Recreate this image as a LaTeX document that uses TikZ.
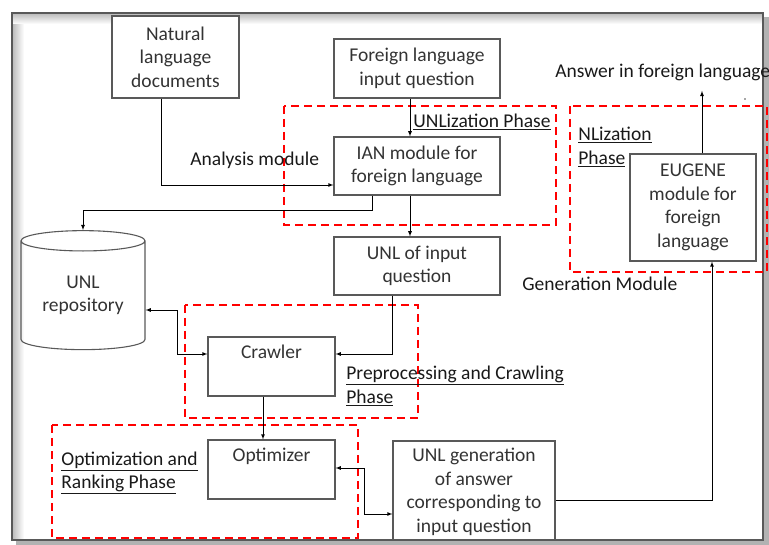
\documentclass[tikz,border=0pt]{standalone}
\usepackage{fontspec}
\setmainfont{Carlito}
\usetikzlibrary{arrows,positioning,shapes}

\begin{document}
\begin{tikzpicture}[x=1pt,y=-1pt,>=latex,thick,font=\fontsize{19.5}{23.5}\selectfont]
  \tikzstyle{box}=[draw=black!65,line width=1.1pt,align=center,text=black!80,inner sep=0pt]
  \tikzstyle{phase}=[draw=red,line width=1.6pt,dash pattern=on 8pt off 5pt]
  \tikzstyle{tag}=[text=black!90,inner sep=0pt,align=left,anchor=west]

  \useasboundingbox (0,0) rectangle (769,545);
  % frame and shadow
  \shade[left color=black!25,right color=white] (13,14) rectangle (24,540);
  \shade[top color=black!25,bottom color=white] (13,14) rectangle (763,24);
  \fill[black!30] (16,540) rectangle (769,545);
  \fill[black!30] (763,17) rectangle (769,545);
  \draw[black!65,line width=1.2pt] (12,13) rectangle (763,540);

  \node[box,fill=white,minimum width=127,minimum height=82] (nld) at (175.5,57) {Natural\\language\\documents};
  \node[box,minimum width=166,minimum height=59] (fq) at (417,68.5) {Foreign language\\input question};
  \node[box,minimum width=166,minimum height=58] (ian) at (417,166) {IAN module for\\foreign language};
  \node[box,minimum width=166,minimum height=58] (unlq) at (417,266) {UNL of input\\question};
  \node[box,cylinder,shape border rotate=90,aspect=0.25,minimum width=124,minimum height=119] (repo) at (83,295.5) {UNL\\repository};
  \node[box,minimum width=127,minimum height=59,label={[anchor=north,text=black!80,yshift=-5pt]north:Crawler}] (crawler) at (271.5,366.5) {};
  \node[box,minimum width=127,minimum height=59,label={[anchor=north,text=black!80,yshift=-5pt]north:Optimizer}] (opt) at (271.5,469.5) {};
  \node[box,minimum width=162,minimum height=99,text depth=-3pt] (gen) at (474,490.5) {UNL generation\\of answer\\corresponding to\\input question};
  \node[box,minimum width=126,minimum height=107] (eug) at (693,207.5) {EUGENE\\module for\\foreign\\language};

  % phases
  \draw[phase] (284,106) rectangle (556,225);
  \draw[phase] (570,106) rectangle (767,272);
  \draw[phase] (185,305) rectangle (418,418);
  \draw[phase] (52,425) rectangle (358,538);

  \node[tag] (unlz) at (413,122) {\underline{UNLization Phase}};
  \node[tag] (nlz) at (578,147) {\underline{NLization}\\\underline{Phase}};
  \node[tag] (prep) at (346,386) {\underline{Preprocessing and Crawling}\\\underline{Phase}};
  \node[tag] (optr) at (61,473) {\underline{Optimization and}\\\underline{Ranking Phase}};
  \node[tag] (anl) at (190,160) {Analysis module};
  \node[tag] (genm) at (522,284) {Generation Module};
  \node[tag] (ans) at (555,72) {Answer in foreign language};
  \fill[black!70] (745,99) circle (0.9);

  % connectors
  \draw[->] ([xshift=-14.5pt]nld.south) |- ([yshift=-19pt]ian.west);
  \draw[->] ([xshift=-7pt]fq.south) -- ([xshift=-7pt]ian.north);
  \draw[->] ([xshift=-7pt]ian.south) -- ([xshift=-7pt]unlq.north);
  \draw[->] ([xshift=-45pt]ian.south) -- ++(0,15) -| (repo.north);
  \draw[->] ([xshift=-25pt]unlq.south) |- ([yshift=12.5pt]crawler.east);
  \draw[<->] ([yshift=-14.5pt]repo.east) -- ++(32,0) |- ([yshift=12.5pt]crawler.west);
  \draw[->] ([xshift=-8.5pt]crawler.south) -- ([xshift=-8.5pt]opt.north);
  \draw[<->] ([yshift=1.5pt]opt.east) -- ++(29,0) |- ([yshift=-23.5pt]gen.west);
  \draw[->] ([yshift=-9.5pt]gen.east) -| ([xshift=19pt]eug.south);
  \draw[->] ([xshift=9pt]eug.north) -- ([xshift=9pt,yshift=-10pt]eug.north |- ans.south);
\end{tikzpicture}
\end{document}
